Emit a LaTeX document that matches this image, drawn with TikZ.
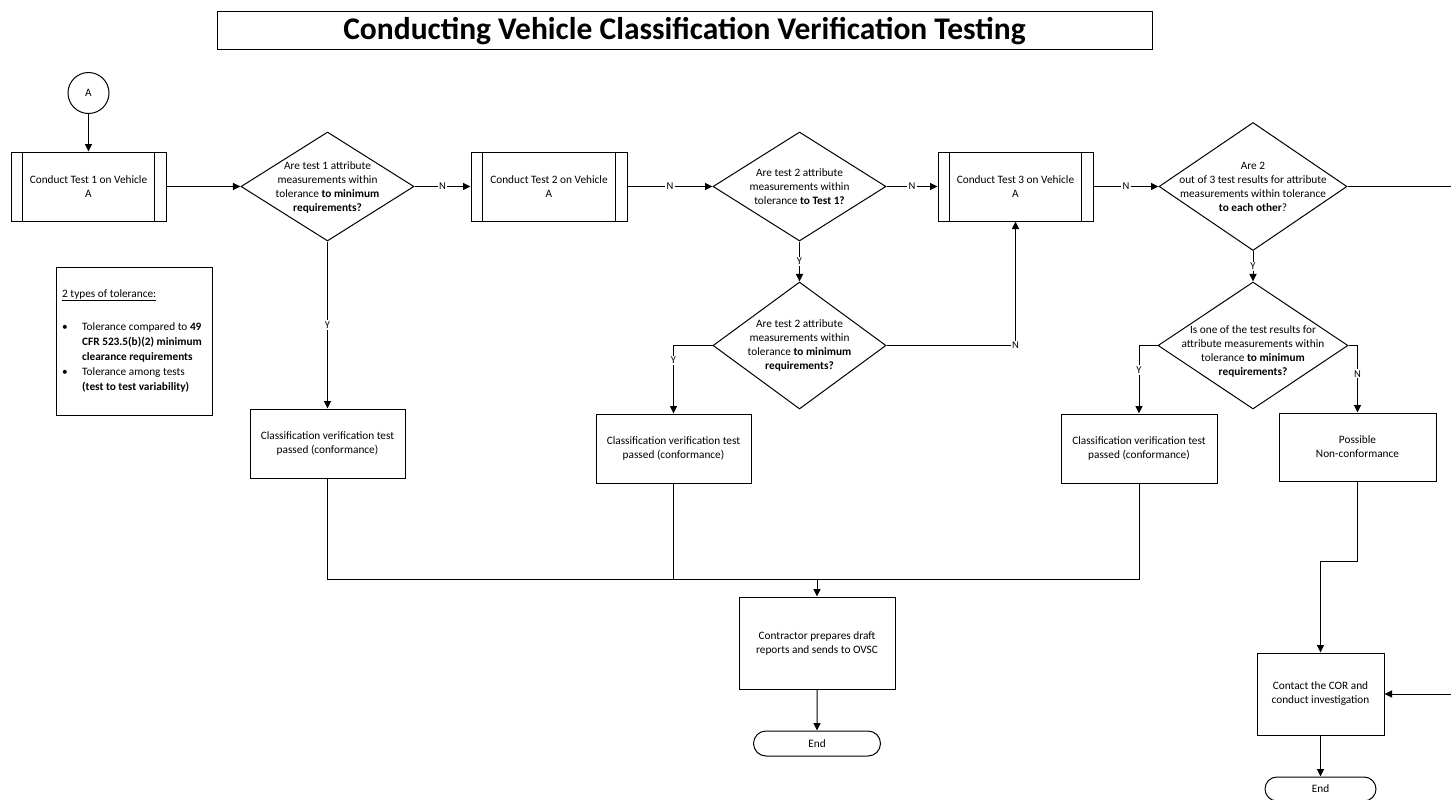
\documentclass[tikz,border=0pt]{standalone}
\usepackage{fontspec}
\setmainfont{Carlito}
\usepackage{array}
\usetikzlibrary{arrows.meta,shapes.geometric,shapes.misc,calc}
\begin{document}
\begin{tikzpicture}[x=1pt,y=-1pt,
  every node/.style={font=\fontsize{11.3}{14}\selectfont, inner sep=0pt},
  line/.style={line width=1pt, draw=black},
  arr/.style={line, -{Triangle[length=7.5pt,width=7pt]}},
  lbl/.style={fill=white, inner sep=1.2pt, font=\fontsize{10.5}{12}\selectfont},
  proc/.style={draw, line width=1pt, rectangle, align=center},
  subproc/.style={proc, path picture={
      \draw[line width=1pt] ([xshift=11.5pt]path picture bounding box.north west) -- ([xshift=11.5pt]path picture bounding box.south west);
      \draw[line width=1pt] ([xshift=-11.5pt]path picture bounding box.north east) -- ([xshift=-11.5pt]path picture bounding box.south east);}},
  dec/.style={draw, line width=1pt, diamond, inner sep=0pt},
  dtext/.style={align=center},
  term/.style={draw, line width=1pt, rounded rectangle, align=center},
]
\useasboundingbox (0,0) rectangle (1451,800);

% title
\node[draw, line width=1pt, minimum width=935pt, minimum height=38pt,
      font=\fontsize{31.5}{34}\selectfont\bfseries] (title) at (684.5,31)
      {Conducting Vehicle Classification Verification Testing};

% connector A
\node[draw, circle, line width=1pt, minimum size=41pt] (A) at (88.5,93) {A};

% top row
\node[subproc, minimum width=155pt, minimum height=69pt] (b1) at (88.5,186.5) {Conduct Test 1 on Vehicle\\A};
\node[dec, minimum width=173pt, minimum height=109pt] (d1) at (327.5,186.5) {};
\node[dtext] (t1) at (327.5,187.5) {Are test 1 attribute\\measurements within\\tolerance \textbf{to minimum}\\\textbf{requirements?}};
\node[subproc, minimum width=156pt, minimum height=69pt] (b2) at (549,186.5) {Conduct Test 2 on Vehicle\\A};
\node[dec, minimum width=173pt, minimum height=109pt] (d2) at (799.5,186.5) {};
\node[dtext] (t2) at (799.5,186.5) {Are test 2 attribute\\measurements within\\tolerance \textbf{to Test 1?}};
\node[subproc, minimum width=155pt, minimum height=69pt] (b3) at (1015.5,186.5) {Conduct Test 3 on Vehicle\\A};
\node[dec, minimum width=188pt, minimum height=128pt] (d4) at (1253,186.5) {};
\node[dtext] (t4) at (1253,187) {Are 2\\out of 3 test results for attribute\\measurements within tolerance\\\textbf{to each other}?};

% second row diamonds
\node[dec, minimum width=173pt, minimum height=127pt] (d3) at (799.5,345.5) {};
\node[dtext] (t3) at (799.5,345.5) {Are test 2 attribute\\measurements within\\tolerance \textbf{to minimum}\\\textbf{requirements?}};
\node[dec, minimum width=190pt, minimum height=127pt] (d5) at (1253,345.5) {};
\node[dtext] (t5) at (1253,351) {Is one of the test results for\\attribute measurements within\\tolerance \textbf{to minimum}\\\textbf{requirements?}};

% result boxes
\node[proc, minimum width=155pt, minimum height=69pt] (c1) at (327.5,443.5) {Classification verification test\\passed (conformance)};
\node[proc, minimum width=155pt, minimum height=69pt] (c2) at (673.5,448.5) {Classification verification test\\passed (conformance)};
\node[proc, minimum width=156pt, minimum height=69pt] (c3) at (1139,448.5) {Classification verification test\\passed (conformance)};
\node[proc, minimum width=157pt, minimum height=68pt] (pnc) at (1357.5,447) {Possible\\Non-conformance};

\node[proc, minimum width=156pt, minimum height=92pt] (rep) at (817,643) {Contractor prepares draft\\reports and sends to OVSC};
\node[term, minimum width=127pt, minimum height=25pt] (end1) at (817,743.5) {End};

\node[proc, minimum width=127pt, minimum height=82pt] (cor) at (1320.5,694) {Contact the COR and\\conduct investigation};
\node[term, minimum width=111pt, minimum height=24pt] (end2) at (1320.5,789) {End};

% legend
\node[draw, line width=1pt, minimum width=156pt, minimum height=148pt] (legbox) at (134,341) {};
\node[anchor=west, font=\fontsize{11.3}{15}\selectfont] (legtext) at (62,340.5) {%
\begin{tabular}{@{}p{20pt}@{}l@{}}
\multicolumn{2}{@{}l}{\underline{2 types of tolerance:}}\\[18pt]
\textbullet & Tolerance compared to \textbf{49}\\
 & \textbf{CFR 523.5(b)(2) minimum}\\
 & \textbf{clearance requirements}\\
\textbullet & Tolerance among tests\\
 & \textbf{(test to test variability)}
\end{tabular}};

% coordinates
\coordinate (m) at (817,579);
\coordinate (k) at (0,561);
\coordinate (edgeA) at (1451,186.5);
\coordinate (edgeB) at (1451,694);

% connectors
\draw[arr] (A) -- (b1);
\draw[arr] (b1) -- (d1);
\draw[arr] (d1) -- node[lbl]{N} (b2);
\draw[arr] (b2) -- node[lbl]{N} (d2);
\draw[arr] (d2) -- node[lbl]{N} (b3);
\draw[arr] (b3) -- node[lbl]{N} (d4);
\draw[line] (d4.east) -- (edgeA);
\draw[arr] (d1) -- node[lbl]{Y} (c1);
\draw[arr] (d2) -- node[lbl]{Y} (d3);
\draw[arr] (d4) -- node[lbl]{Y} (d5);
\draw[arr] (d3.west) -| node[lbl, pos=0.61]{Y} (c2.north);
\draw[arr] (d3.east) -| node[lbl, pos=0.5]{N} (b3.south);
\draw[arr] (d5.west) -| node[lbl, pos=0.68]{Y} (c3.north);
\draw[arr] (d5.east) -| node[lbl, pos=0.71]{N} (pnc.north);

\draw[line] (c1.south) |- (m);
\draw[line] (c2.south) |- (m);
\draw[line] (c3.south) |- (m);
\draw[arr] (m) -- (rep.north);
\draw[arr] (rep) -- (end1);

\draw[arr] (pnc.south) -- (pnc.south |- k) -| (cor.north);
\draw[arr] (edgeB) -- (cor.east);
\draw[arr] (cor) -- (end2);
\end{tikzpicture}
\end{document}
